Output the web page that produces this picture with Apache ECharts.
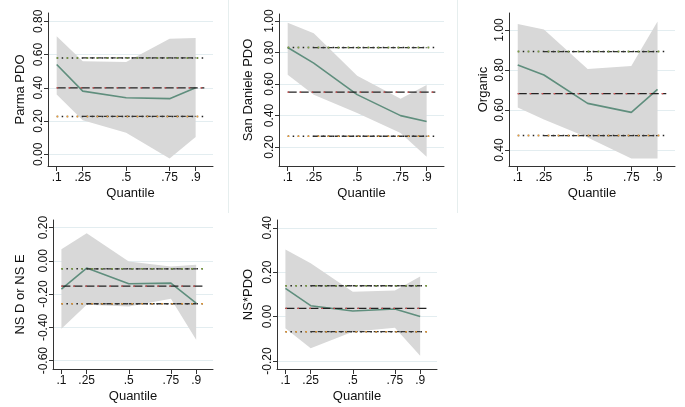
<!DOCTYPE html>
<html><head><meta charset="utf-8">
<script src="https://cdn.jsdelivr.net/npm/echarts@6/dist/echarts.min.js"></script>
<style>html,body{margin:0;padding:0;background:#fff}#c{width:685px;height:407px}</style>
</head><body><div id="c"></div>
<script>
// ---- data ----
const quantiles = [0.1, 0.25, 0.5, 0.75, 0.9];
const xTickLabels = ['.1', '.25', '.5', '.75', '.9'];

const parmaEst = [0.54, 0.38, 0.34, 0.335, 0.40];
const parmaUp  = [0.71, 0.56, 0.555, 0.695, 0.70];
const parmaLo  = [0.36, 0.205, 0.13, -0.025, 0.105];
const parmaOls = [0.40, 0.58, 0.228]; // estimate, upper, lower
const parmaTicks = [0, 0.2, 0.4, 0.6, 0.8];

const sanDEst = [0.832, 0.733, 0.533, 0.40, 0.362];
const sanDUp  = [0.99, 0.922, 0.653, 0.507, 0.594];
const sanDLo  = [0.659, 0.533, 0.417, 0.29, 0.139];
const sanDOls = [0.549, 0.832, 0.269];
const sanDTicks = [0.2, 0.4, 0.6, 0.8, 1.0];

const orgEst = [0.825, 0.775, 0.633, 0.588, 0.703];
const orgUp  = [1.03, 1.003, 0.805, 0.82, 1.042];
const orgLo  = [0.613, 0.553, 0.463, 0.358, 0.358];
const orgOls = [0.682, 0.892, 0.472];
const orgTicks = [0.4, 0.6, 0.8, 1.0];

const nsdEst = [-0.17, -0.044, -0.138, -0.134, -0.254];
const nsdUp  = [0.07, 0.166, -0.004, -0.034, -0.024];
const nsdLo  = [-0.408, -0.264, -0.274, -0.228, -0.474];
const nsdOls = [-0.152, -0.048, -0.258];
const nsdTicks = [-0.6, -0.4, -0.2, 0, 0.2];

const nspEst = [0.127, 0.049, 0.025, 0.034, 0.0];
const nspUp  = [0.302, 0.24, 0.112, 0.117, 0.18];
const nspLo  = [-0.053, -0.143, -0.068, -0.05, -0.176];
const nspOls = [0.037, 0.139, -0.068];
const nspTicks = [-0.2, 0, 0.2, 0.4];

const panels = [
  {name: 'Parma PDO', est: parmaEst, up: parmaUp, lo: parmaLo, ols: parmaOls, ticks: parmaTicks,
   grid: {left: 48, top: 13, width: 165, height: 153}, ymin: -0.07, ymax: 0.85, gap: 21},
  {name: 'San Daniele PDO', est: sanDEst, up: sanDUp, lo: sanDLo, ols: sanDOls, ticks: sanDTicks,
   grid: {left: 279, top: 14, width: 165, height: 152}, ymin: 0.08, ymax: 1.045, gap: 24},
  {name: 'Organic', est: orgEst, up: orgUp, lo: orgLo, ols: orgOls, ticks: orgTicks,
   grid: {left: 509, top: 13, width: 166, height: 153}, ymin: 0.32, ymax: 1.085, gap: 19},
  {name: 'NS D or NS E', est: nsdEst, up: nsdUp, lo: nsdLo, ols: nsdOls, ticks: nsdTicks,
   grid: {left: 53, top: 220, width: 160, height: 149}, ymin: -0.65, ymax: 0.245, gap: 26},
  {name: 'NS*PDO', est: nspEst, up: nspUp, lo: nspLo, ols: nspOls, ticks: nspTicks,
   grid: {left: 277, top: 220, width: 160, height: 149}, ymin: -0.236, ymax: 0.435, gap: 22}
];

const FONT = 'Liberation Sans, Arial, Helvetica, sans-serif';
const grids = [], xAxes = [], yAxes = [], series = [];
const hStart = 0.1, hEnd = 0.95, cStart = 0.25, cEnd = 0.9;

panels.forEach((p, i) => {
  grids.push(Object.assign({containLabel: false}, p.grid));
  xAxes.push({
    type: 'value', gridIndex: i, min: 0.05, max: 1.0,
    name: 'Quantile', nameLocation: 'middle', nameGap: 21,
    nameTextStyle: {fontFamily: FONT, fontSize: 13, color: '#111'},
    axisLine: {onZero: false, lineStyle: {color: '#333', width: 1}},
    axisTick: {customValues: quantiles, length: 5, lineStyle: {color: '#333'}},
    axisLabel: {customValues: quantiles, margin: 6, fontFamily: FONT, fontSize: 12, color: '#111',
      formatter: v => xTickLabels[quantiles.findIndex(q => Math.abs(q - v) < 1e-6)] || ''},
    splitLine: {show: false}
  });
  yAxes.push({
    type: 'value', gridIndex: i, min: p.ymin, max: p.ymax,
    name: p.name, nameLocation: 'middle', nameGap: p.gap,
    nameTextStyle: {fontFamily: FONT, fontSize: 13, color: '#111'},
    axisLine: {show: true, onZero: false, lineStyle: {color: '#333', width: 1}},
    axisTick: {show: true, customValues: p.ticks, length: 4, lineStyle: {color: '#333'}},
    axisLabel: {customValues: p.ticks, rotate: 90, margin: 3, fontFamily: FONT, fontSize: 12, color: '#111',
      formatter: v => v.toFixed(2)},
    splitLine: {show: true, lineStyle: {color: '#e3edf0', width: 1}}
  });
  // confidence band as one polygon through the axis scales
  series.push({type: 'custom', xAxisIndex: i, yAxisIndex: i, silent: true, z: 1,
    data: quantiles.map((q, k) => [q, p.lo[k], p.up[k]]),
    renderItem: (params, api) => {
      if (params.dataIndex !== 0) return null;
      const top = quantiles.map((q, k) => api.coord([q, p.up[k]]));
      const bot = quantiles.map((q, k) => api.coord([q, p.lo[k]])).reverse();
      return {type: 'polygon', shape: {points: top.concat(bot)}, style: {fill: '#d8d8d8'}};
    }
  });
  series.push({type: 'line', xAxisIndex: i, yAxisIndex: i, symbol: 'none',
    lineStyle: {color: '#5f8e7d', width: 1.6},
    data: quantiles.map((q, k) => [q, p.est[k]]), z: 3});
  const hl = (y, x0, x1, color, type, w, z) => series.push({type: 'line', xAxisIndex: i, yAxisIndex: i,
    symbol: 'none', silent: true, lineStyle: {color: color, type: type, width: w},
    data: [[x0, y], [x1, y]], z: z});
  // OLS estimate: long dash black with red dots
  hl(p.ols[0], hStart, hEnd, '#222', [9, 3], 1.3, 4);
  hl(p.ols[0], hStart, hEnd, '#e05050', [1.5, 10.5], 1.3, 5);
  // upper CI: black dots, black dashes in the middle, green dots
  hl(p.ols[1], hStart, hEnd, '#222', [1.5, 3.5], 1.5, 4);
  hl(p.ols[1], cStart, cEnd, '#333', [5, 2], 1.3, 4);
  hl(p.ols[1], hStart, hEnd, '#7fa83a', [1.5, 8.5], 1.5, 5);
  // lower CI: black dots, black dashes in the middle, orange dots
  hl(p.ols[2], hStart, hEnd, '#222', [1.5, 3.5], 1.5, 4);
  hl(p.ols[2], cStart, cEnd, '#333', [5, 2], 1.3, 4);
  hl(p.ols[2], hStart, hEnd, '#f5a030', [1.5, 8.5], 1.5, 5);
});

const chart = echarts.init(document.getElementById('c'), null, {renderer: 'canvas'});
chart.setOption({
  animation: false,
  backgroundColor: '#ffffff',
  graphic: [
    {type: 'line', shape: {x1: 228.5, y1: 0, x2: 228.5, y2: 213}, style: {stroke: '#e6eeee', lineWidth: 1}},
    {type: 'line', shape: {x1: 457.5, y1: 0, x2: 457.5, y2: 213}, style: {stroke: '#e6eeee', lineWidth: 1}}
  ],
  grid: grids, xAxis: xAxes, yAxis: yAxes, series: series
});
</script></body></html>
